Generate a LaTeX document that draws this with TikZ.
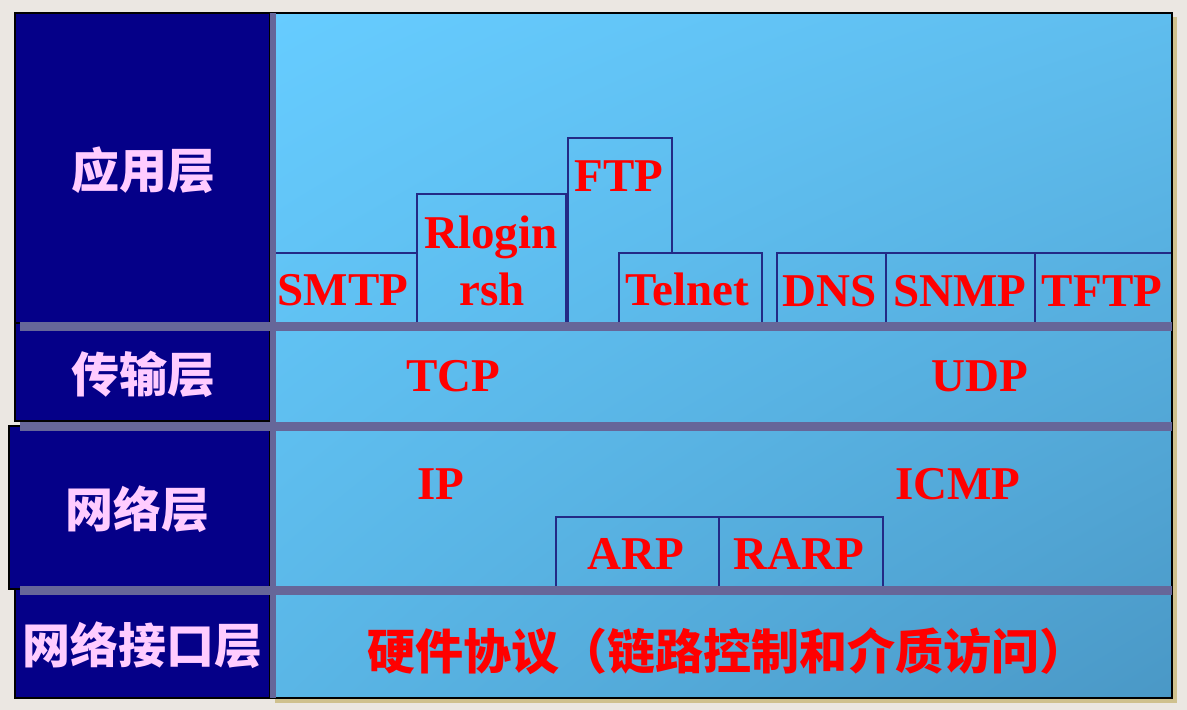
\documentclass[tikz,border=0pt]{standalone}
\usepackage{fontspec}
\usetikzlibrary{shadings}
\setmainfont{Liberation Serif}
\newfontfamily\cjk{Noto Sans CJK SC}
\definecolor{bgc}{HTML}{EBE7E2}
\definecolor{shadowc}{HTML}{CFC18E}
\definecolor{navyc}{HTML}{050088}
\definecolor{barc}{HTML}{666699}
\definecolor{boxc}{HTML}{232A85}
\definecolor{pinkc}{HTML}{FFCCFF}
\definecolor{ulc}{HTML}{66CCFF}
\definecolor{urc}{HTML}{5FBDEE}
\definecolor{llc}{HTML}{5AB6E6}
\definecolor{lrc}{HTML}{4A98C6}
\tikzset{
  panel/.style={fill=navyc, draw=black, line width=2pt},
  bar/.style={fill=barc},
  proto/.style={draw=boxc, line width=2pt},
  ptext/.style={text=red, inner sep=0pt, anchor=base, font=\bfseries\fontsize{47}{47}\selectfont},
  layertext/.style={text=pinkc, inner sep=0pt, anchor=center, font=\cjk\bfseries\fontsize{48}{48}\selectfont},
  hwtext/.style={text=red, inner sep=0pt, anchor=west, font=\cjk\bfseries\fontsize{48}{48}\selectfont}
}
\begin{document}
\begin{tikzpicture}[x=1pt,y=-1pt]
\useasboundingbox (0,0) rectangle (1187,710);
\fill[bgc] (0,0) rectangle (1187,710);
% shadow and main box
\fill[shadowc] (275,17) rectangle (1177,703);
\shade[upper left=ulc, upper right=urc, lower left=llc, lower right=lrc] (270,13) rectangle (1172,698);
\draw[black, line width=2pt] (270,13) rectangle (1172,698);
% left panels
\draw[panel] (15,13) rectangle (270,323);
\draw[panel] (15,323) rectangle (270,421);
\draw[panel] (9,426) rectangle (270,589);
\draw[panel] (15,589) rectangle (270,698);
% bars
\fill[bar] (270,13) rectangle (276,698);
\fill[bar] (20,322) rectangle (1172,331);
\fill[bar] (20,422) rectangle (1172,431);
\fill[bar] (20,586) rectangle (1172,595);
% application layer boxes
\draw[proto] (276,253) -- (417,253);
\draw[proto] (417,322) -- (417,194) -- (566,194) -- (566,322);
\draw[proto] (568,322) -- (568,138) -- (672,138) -- (672,253);
\draw[proto] (619,322) -- (619,253) -- (762,253) -- (762,322);
\draw[proto] (777,322) -- (777,253) -- (1171,253);
\draw[proto] (886,253) -- (886,322);
\draw[proto] (1035,253) -- (1035,322);
% network layer boxes
\draw[proto] (556,586) -- (556,517) -- (883,517) -- (883,586);
\draw[proto] (719,517) -- (719,586);
% layer labels
\node[layertext] (app) at (143,170) {应用层};
\node[layertext] (trans) at (143,374) {传输层};
\node[layertext] (net) at (137,509) {网络层};
\node[layertext] (link) at (143,645) {网络接口层};
% protocol texts
\node[ptext] (smtp) at (343,305) {SMTP};
\node[ptext] (rlogin) at (491,248) {Rlogin};
\node[ptext] (rsh) at (492,305) {rsh};
\node[ptext] (ftp) at (619,191) {FTP};
\node[ptext] (telnet) at (687,305) {Telnet};
\node[ptext] (dns) at (830,306) {DNS};
\node[ptext] (snmp) at (960,306) {SNMP};
\node[ptext] (tftp) at (1102,306) {TFTP};
\node[ptext] (tcp) at (453,391) {TCP};
\node[ptext] (udp) at (980,391) {UDP};
\node[ptext] (ip) at (441,499) {IP};
\node[ptext] (icmp) at (958,499) {ICMP};
\node[ptext] (arp) at (636,569) {ARP};
\node[ptext] (rarp) at (799,569) {RARP};
\node[hwtext] (hw) at (367,651) {硬件协议（链路控制和介质访问）};
\end{tikzpicture}
\end{document}
